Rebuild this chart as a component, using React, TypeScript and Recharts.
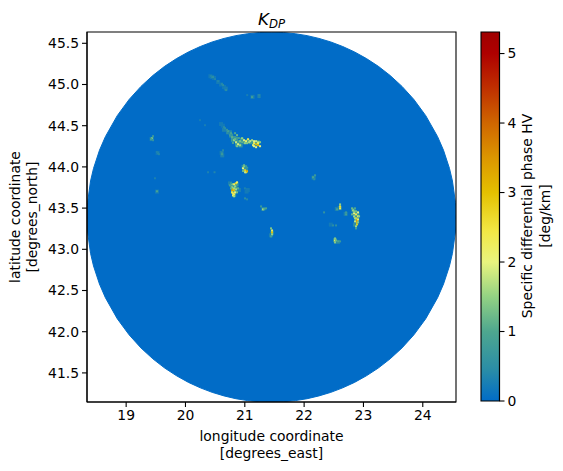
import React from "react";
import { ComposedChart, Area, Scatter, XAxis, YAxis, ReferenceArea } from "recharts";

const FONT = "'DejaVu Sans', sans-serif";
const TICK_SIZE = 13.9;

const lonTicks = [19, 20, 21, 22, 23, 24];
const latTicks = [41.5, 42, 42.5, 43, 43.5, 44, 44.5, 45, 45.5];
const colorTicks = [0, 1, 2, 3, 4, 5];
const lonDomain = [18.34, 24.56];
const latDomain = [41.147, 45.637];
const colorMax = 5.31;

// outline of the radar coverage
const discLon = [18.34, 18.35, 18.4, 18.45, 18.55, 18.65, 18.85, 19.05, 19.25, 19.45, 19.65, 19.85, 20.05, 20.25, 20.45, 20.65, 20.85, 21.05, 21.25, 21.45, 21.65, 21.85, 22.05, 22.25, 22.45, 22.65, 22.85, 23.05, 23.25, 23.45, 23.65, 23.85, 24.05, 24.25, 24.35, 24.45, 24.5, 24.55, 24.56];
const discNorth = [43.39, 43.57, 43.829, 43.982, 44.201, 44.367, 44.622, 44.818, 44.977, 45.109, 45.221, 45.315, 45.395, 45.461, 45.516, 45.559, 45.593, 45.616, 45.63, 45.635, 45.63, 45.616, 45.593, 45.559, 45.516, 45.461, 45.395, 45.315, 45.221, 45.109, 44.977, 44.818, 44.622, 44.367, 44.201, 43.982, 43.829, 43.57, 43.39];
const discSouth = [43.39, 43.21, 42.951, 42.798, 42.579, 42.413, 42.158, 41.962, 41.803, 41.671, 41.559, 41.465, 41.385, 41.319, 41.264, 41.221, 41.187, 41.164, 41.15, 41.145, 41.15, 41.164, 41.187, 41.221, 41.264, 41.319, 41.385, 41.465, 41.559, 41.671, 41.803, 41.962, 42.158, 42.413, 42.579, 42.798, 42.951, 43.21, 43.39];

// colour scale
const scaleValues = [0, 0.45, 1, 1.5, 2, 2.45, 3, 3.5, 4, 4.5, 5, 5.31];
const scaleColors = ["#016cc7", "#2a8da6", "#4ea78f", "#93d283", "#e9f47e", "#f2e844", "#e4c000", "#dc9600", "#cf6600", "#bf3000", "#ae0000", "#9f0000"];

// weak echoes around the cells: [lon, lat, KDP]
const haloCells = [
  [20.65, 44.45, 0.3], [20.72, 44.42, 0.5], [20.77, 44.38, 0.6], [20.8, 44.33, 0.7], [20.85, 44.34, 0.8], [20.9, 44.3, 0.8],
  [20.87, 44.27, 0.8], [20.95, 44.33, 0.7], [21.0, 44.3, 0.8], [21.05, 44.31, 0.8], [21.1, 44.3, 0.7], [21.16, 44.29, 0.8],
  [21.21, 44.28, 0.7], [20.93, 44.26, 0.6], [20.82, 44.35, 0.7], [20.75, 44.42, 0.4], [20.63, 44.5, 0.2], [20.6, 44.52, 0.2], [21.22, 44.3, 0.6],
  [20.45, 45.09, 0.25], [20.48, 45.08, 0.2], [20.55, 45.03, 0.2], [20.6, 45.0, 0.2], [20.65, 44.97, 0.2], [20.68, 44.95, 0.25], [20.42, 45.1, 0.2],
  [21.0, 43.97, 0.7], [20.98, 44.0, 0.6], [21.02, 43.95, 0.6],
  [20.8, 43.75, 0.8], [20.84, 43.76, 0.8], [20.8, 43.7, 0.8], [20.85, 43.72, 0.6], [20.82, 43.66, 0.7], [20.78, 43.78, 0.6], [20.86, 43.79, 0.7],
  [20.9, 43.72, 0.3], [20.75, 43.8, 0.3], [21.03, 43.7, 0.2], [21.05, 43.72, 0.2],
  [22.87, 43.4, 0.8], [22.85, 43.45, 0.7], [22.89, 43.35, 0.7], [22.86, 43.3, 0.5], [22.9, 43.42, 0.6], [22.83, 43.48, 0.5],
  [22.6, 43.5, 0.5], [22.52, 43.11, 0.6], [22.57, 43.09, 0.35], [22.7, 43.43, 0.3], [22.45, 43.3, 0.2], [22.55, 43.49, 0.3],
  [19.43, 44.34, 0.4], [19.53, 44.17, 0.2], [19.52, 43.7, 0.25],
  [21.31, 43.49, 0.4], [21.46, 43.2, 0.4], [21.44, 43.17, 0.3], [22.16, 43.87, 0.35], [21.13, 44.85, 0.3], [21.24, 44.86, 0.2], [20.61, 44.17, 0.3], [20.62, 44.14, 0.3],
];
const faintCells = [
  [20.448, 45.09, 0.45], [20.465, 45.09, 0.5], [20.431, 45.102, 0.35], [20.498, 45.065, 0.35], [20.549, 45.04, 0.35],
  [20.633, 44.993, 0.45], [20.616, 45.005, 0.4], [20.684, 44.932, 0.45], [21.122, 44.847, 0.8], [21.24, 44.871, 0.4],
  [21.24, 44.847, 0.35], [21.04, 44.871, 0.25], [20.245, 44.567, 0.22], [20.329, 44.506, 0.25], [20.616, 44.166, 0.5],
  [20.616, 44.154, 0.7], [20.633, 44.202, 0.4], [20.49, 43.935, 0.35], [20.38, 43.935, 0.3], [21.004, 43.618, 0.5],
  [21.038, 43.606, 0.4], [21.002, 43.74, 0.3], [22.15, 43.874, 0.9], [22.184, 43.898, 0.7], [22.17, 43.85, 0.5],
];
const westCells = [
  [19.436, 44.348, 1.3], [19.419, 44.336, 0.8], [19.453, 44.373, 0.7], [19.453, 44.324, 0.6], [19.537, 44.166, 0.4],
  [19.52, 43.704, 0.9], [19.486, 43.862, 0.3], [19.553, 44.154, 0.35], [19.52, 44.18, 0.3],
];
const mainCells = [
  [20.667, 44.47, 0.5], [20.65, 44.482, 0.45], [20.718, 44.434, 0.8], [20.7, 44.45, 0.6], [20.768, 44.409, 0.9], [20.785, 44.361, 1.1],
  [20.836, 44.409, 1.0], [20.869, 44.385, 1.2], [20.819, 44.324, 1.5], [20.852, 44.3, 1.8], [20.886, 44.275, 1.9], [20.92, 44.263, 1.6],
  [20.869, 44.251, 1.3], [20.92, 44.312, 1.3], [20.954, 44.348, 1.5], [20.987, 44.324, 1.9], [21.021, 44.312, 2.2], [21.055, 44.336, 2.4],
  [21.089, 44.312, 1.8], [21.004, 44.288, 1.5], [21.122, 44.324, 1.6], [21.156, 44.312, 2.0], [21.19, 44.312, 1.8], [21.223, 44.3, 1.6],
  [21.257, 44.3, 1.4], [21.139, 44.263, 2.2], [21.156, 44.288, 2.3], [21.19, 44.275, 3.0], [21.223, 44.263, 3.2], [21.223, 44.288, 2.3],
  [21.257, 44.251, 2.0], [21.19, 44.239, 2.0], [21.156, 44.251, 2.0], [20.836, 44.336, 1.2], [20.954, 44.3, 1.1], [20.75, 44.385, 0.7],
  [21.038, 44.288, 1.4], [21.072, 44.3, 1.6], [20.9, 44.35, 0.9], [20.8, 44.29, 0.9],
];
const midCells = [
  [21.004, 43.959, 2.8], [20.97, 43.983, 2.0], [20.987, 44.008, 1.4], [21.021, 43.935, 2.6], [21.038, 43.947, 3.2], [21.004, 43.935, 1.8],
  [20.987, 44.02, 1.2], [21.021, 44.008, 0.8], [20.97, 43.95, 1.2], [21.04, 43.99, 0.7],
  [20.819, 43.789, 2.2], [20.852, 43.801, 2.8], [20.869, 43.813, 2.2], [20.785, 43.789, 1.4], [20.751, 43.777, 0.9], [20.785, 43.752, 1.5],
  [20.836, 43.764, 1.5], [20.802, 43.728, 3.0], [20.785, 43.716, 3.4], [20.819, 43.716, 3.0], [20.785, 43.691, 2.4], [20.836, 43.691, 2.0],
  [20.802, 43.679, 2.4], [20.819, 43.667, 2.4], [20.802, 43.655, 2.2], [20.819, 43.643, 1.6], [20.852, 43.728, 1.6], [20.886, 43.74, 1.1],
  [20.869, 43.691, 1.3], [20.768, 43.74, 1.1], [20.768, 43.8, 0.7], [20.819, 43.74, 1.6],
  [21.307, 43.485, 1.6], [21.358, 43.497, 0.9], [21.274, 43.521, 0.7], [21.33, 43.49, 1.0],
  [21.459, 43.205, 3.0], [21.459, 43.229, 2.3], [21.442, 43.254, 1.4], [21.459, 43.181, 1.5], [21.442, 43.156, 0.8],
];
const eastCells = [
  [22.892, 43.351, 3.5], [22.892, 43.327, 3.2], [22.892, 43.302, 2.8], [22.875, 43.375, 2.8], [22.909, 43.4, 2.3], [22.875, 43.424, 2.4],
  [22.842, 43.436, 2.0], [22.825, 43.473, 1.6], [22.808, 43.497, 1.2], [22.858, 43.497, 1.0], [22.909, 43.448, 2.0], [22.909, 43.363, 2.2],
  [22.926, 43.4, 1.5], [22.842, 43.4, 1.6], [22.808, 43.424, 1.2], [22.875, 43.278, 1.6], [22.875, 43.254, 0.9], [22.858, 43.339, 1.8],
  [22.909, 43.327, 1.4], [22.842, 43.46, 1.4], [22.875, 43.46, 1.3], [22.858, 43.375, 1.6],
  [22.606, 43.521, 2.6], [22.606, 43.497, 2.4], [22.606, 43.545, 1.5], [22.555, 43.485, 0.9], [22.707, 43.424, 0.8], [22.707, 43.448, 0.7],
  [22.336, 43.448, 0.6], [22.488, 43.29, 0.5], [22.538, 43.29, 0.5],
  [22.521, 43.108, 2.3], [22.521, 43.132, 1.4], [22.521, 43.083, 1.4], [22.572, 43.096, 0.9], [22.606, 43.096, 0.7], [22.538, 43.108, 1.2],
];

const discData = discLon.map((lon, i) => ({ lon, band: [discSouth[i], discNorth[i]] }));
const toCell = ([lon, lat, v]: number[]) => ({ lon, lat, v });
const haloData = haloCells.map(toCell);
const cellData = [...faintCells, ...westCells, ...mainCells, ...midCells, ...eastCells].map(toCell);
const colorbarData = [
  { pos: 0, range: [0, colorMax] },
  { pos: 1, range: [0, colorMax] },
];

const hexToRgb = (h: string) => [1, 3, 5].map((i) => parseInt(h.slice(i, i + 2), 16));
function colorOf(v: number) {
  let i = 0;
  while (i < scaleValues.length - 2 && v > scaleValues[i + 1]) i++;
  const t = Math.min(1, Math.max(0, (v - scaleValues[i]) / (scaleValues[i + 1] - scaleValues[i])));
  const a = hexToRgb(scaleColors[i]);
  const b = hexToRgb(scaleColors[i + 1]);
  return `rgb(${a.map((c, k) => Math.round(c + (b[k] - c) * t)).join(",")})`;
}

const CellMark = (p: any) => (
  <rect x={p.cx - 1} y={p.cy - 1} width={2} height={2} fill={colorOf(p.payload.v)} />
);
const HaloMark = (p: any) => (
  <rect x={p.cx - 2} y={p.cy - 2} width={4} height={4} fill={colorOf(p.payload.v)} />
);

const tick = { fill: "#000", fontSize: TICK_SIZE, fontFamily: FONT };
const axisLine = { stroke: "#000", strokeWidth: 1.1 };
const tickLine = { stroke: "#000", strokeWidth: 1.1 };

const AxisText = ({ x, y, rotate, children }: any) => (
  <text x={x} y={y} textAnchor="middle" dominantBaseline="middle" fontFamily={FONT} fontSize={TICK_SIZE} fill="#000"
    transform={rotate ? `rotate(-90 ${x} ${y})` : undefined}>{children}</text>
);

const Title = () => (
  <text x={271.5} y={25} textAnchor="middle" fontFamily={FONT} fontSize={16.7} fontStyle="italic" fill="#000">
    K<tspan fontSize={11.7} dy={3}>DP</tspan>
  </text>
);

export default function App() {
  return (
    <div style={{ position: "absolute", left: 0, top: 0, width: 563, height: 471 }}>
      <div style={{ position: "absolute", left: 0, top: 0 }}>
        <ComposedChart width={563} height={471} margin={{ top: 32, right: 107, left: 0, bottom: 0 }}>
          <XAxis
            type="number" dataKey="lon" domain={lonDomain} ticks={lonTicks} allowDataOverflow height={69}
            tick={tick} axisLine={axisLine} tickLine={tickLine} tickSize={5} tickMargin={3} interval={0}
            label={{ content: () => (
              <g>
                <AxisText x={271.5} y={437}>longitude coordinate</AxisText>
                <AxisText x={271.5} y={454}>[degrees_east]</AxisText>
              </g>
            ) }}
          />
          <YAxis
            type="number" domain={latDomain} ticks={latTicks} allowDataOverflow width={87}
            tick={tick} axisLine={axisLine} tickLine={tickLine} tickSize={5} tickMargin={3} interval={0}
            tickFormatter={(v: number) => v.toFixed(1)}
            label={{ content: () => (
              <g>
                <AxisText x={16} y={217} rotate>latitude coordinate</AxisText>
                <AxisText x={33} y={217} rotate>[degrees_north]</AxisText>
              </g>
            ) }}
          />
          <Area data={discData} dataKey="band" type="linear" fill="#016cc7" fillOpacity={1} stroke="#016cc7" strokeWidth={1} dot={false} activeDot={false} isAnimationActive={false} />
          <Scatter data={haloData} dataKey="lat" shape={HaloMark} isAnimationActive={false} />
          <Scatter data={cellData} dataKey="lat" shape={CellMark} isAnimationActive={false} />
          <ReferenceArea x1={lonDomain[0]} x2={lonDomain[1]} y1={latDomain[0]} y2={latDomain[1]} fill="none" stroke="#000" strokeWidth={1.1} />
          <Title />
        </ComposedChart>
      </div>
      <div style={{ position: "absolute", left: 0, top: 0 }}>
        <ComposedChart width={563} height={471} margin={{ top: 32, right: 0, left: 481, bottom: 70 }}>
          <defs>
            <linearGradient id="kdpScale" x1="0" y1="1" x2="0" y2="0">
              {scaleValues.map((v, i) => (
                <stop key={v} offset={v / colorMax} stopColor={scaleColors[i]} />
              ))}
            </linearGradient>
          </defs>
          <XAxis type="number" dataKey="pos" domain={[0, 1]} hide allowDataOverflow />
          <YAxis
            orientation="right" type="number" domain={[0, colorMax]} ticks={colorTicks} allowDataOverflow width={63.5}
            tick={tick} axisLine={axisLine} tickLine={tickLine} tickSize={5} tickMargin={3} interval={0}
            label={{ content: () => (
              <g>
                <AxisText x={528} y={216} rotate>Specific differential phase HV</AxisText>
                <AxisText x={546} y={216} rotate>[deg/km]</AxisText>
              </g>
            ) }}
          />
          <Area data={colorbarData} dataKey="range" type="linear" fill="url(#kdpScale)" fillOpacity={1} stroke="none" dot={false} activeDot={false} isAnimationActive={false} />
          <ReferenceArea x1={0} x2={1} y1={0} y2={colorMax} fill="none" stroke="#000" strokeWidth={1.1} />
        </ComposedChart>
      </div>
    </div>
  );
}
